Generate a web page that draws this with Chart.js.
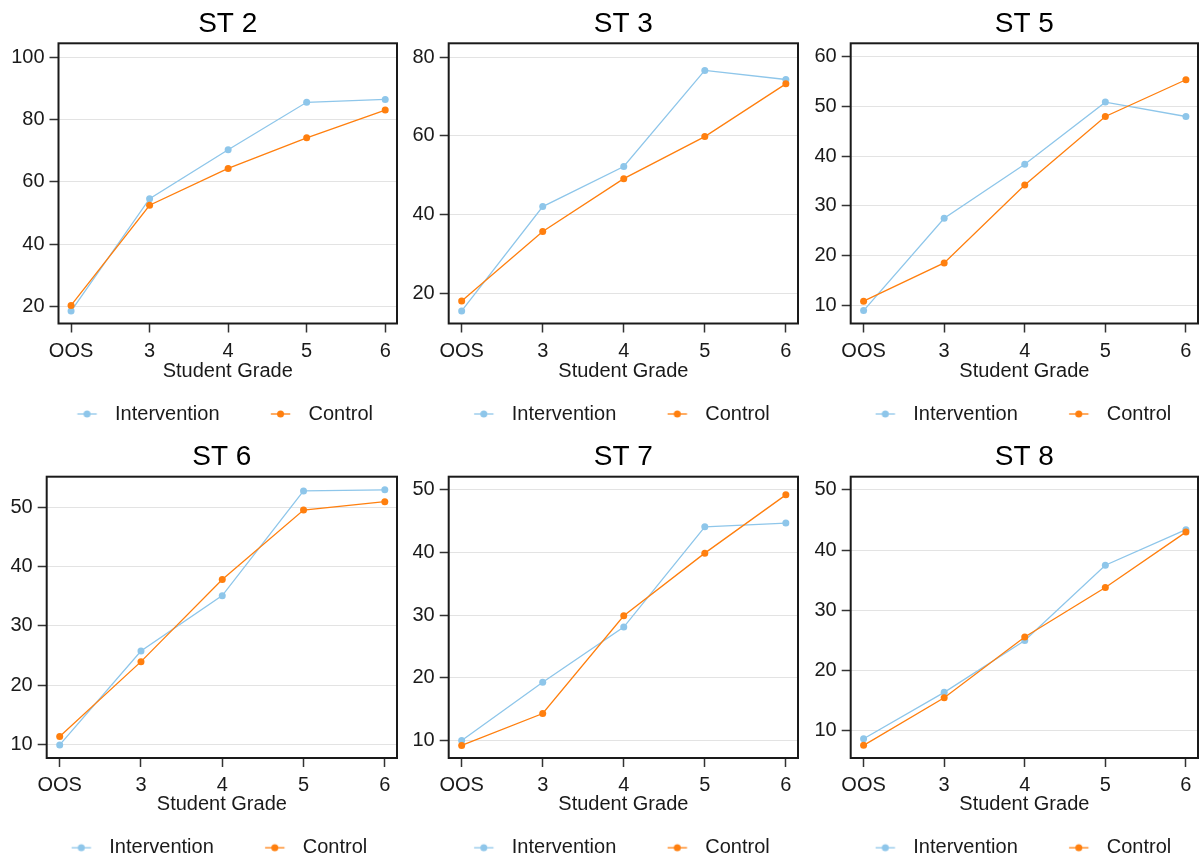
<!DOCTYPE html>
<html>
<head>
<meta charset="utf-8">
<script src="https://cdn.jsdelivr.net/npm/chart.js@4.4.1/dist/chart.umd.min.js"></script>
<style>
  html, body { margin:0; padding:0; background:#fff; }
  #wrap { position:relative; width:1202px; height:861px; overflow:hidden; }
  canvas.panel { position:absolute; }
</style>
</head>
<body>
<div id="wrap"></div>
<script>
// Student grade curves, six panels (ST 2 … ST 8), intervention vs control.

const grades = ["OOS", "3", "4", "5", "6"];
const seriesNames = ["Intervention", "Control"];

const st2Intervention = [18.6, 54.6, 70.3, 85.5, 86.4];
const st2Control      = [20.4, 52.5, 64.3, 74.1, 83.0];
const st2Ticks        = [20, 40, 60, 80, 100];

const st3Intervention = [15.5, 42.0, 52.2, 76.6, 74.3];
const st3Control      = [18.0, 35.7, 49.1, 59.8, 73.2];
const st3Ticks        = [20, 40, 60, 80];

const st5Intervention = [8.9, 27.5, 38.4, 50.9, 48.0];
const st5Control      = [10.8, 18.5, 34.2, 48.0, 55.4];
const st5Ticks        = [10, 20, 30, 40, 50, 60];

const st6Intervention = [10.0, 25.8, 35.1, 52.7, 52.9];
const st6Control      = [11.4, 24.0, 37.8, 49.5, 50.9];
const st6Ticks        = [10, 20, 30, 40, 50];

const st7Intervention = [10.0, 19.3, 28.1, 44.1, 44.7];
const st7Control      = [9.2, 14.3, 29.9, 39.9, 49.2];
const st7Ticks        = [10, 20, 30, 40, 50];

const st8Intervention = [8.7, 16.4, 25.0, 37.5, 43.4];
const st8Control      = [7.6, 15.5, 25.6, 33.8, 43.0];
const st8Ticks        = [10, 20, 30, 40, 50];

const FONT = "'Liberation Sans', Arial, Helvetica, sans-serif";
const BLUE = "#8ec6ea", ORANGE = "#ff7f0e", INK = "#1a1a1a";
const W = 402, H = 440;

const panels = [
  { title:"ST 2", a:st2Intervention, b:st2Control, ticks:st2Ticks, yMin:14.6, yMax:104.4,
    x:0,   y:0,   L:58.5, R:397,   T:43.3, B:323.5, tc:24.5, xc:371.5, lc:414,   t1:115 },
  { title:"ST 3", a:st3Intervention, b:st3Control, ticks:st3Ticks, yMin:12.3, yMax:83.5,
    x:400, y:0,   L:48.7, R:399.5, T:43.3, B:323.5, tc:24.5, xc:371,   lc:414,   t1:111.75 },
  { title:"ST 5", a:st5Intervention, b:st5Control, ticks:st5Ticks, yMin:6.3, yMax:62.75,
    x:800, y:0,   L:50.7, R:401,   T:43.3, B:323.5, tc:24.5, xc:371,   lc:414,   t1:113.25 },
  { title:"ST 6", a:st6Intervention, b:st6Control, ticks:st6Ticks, yMin:7.8, yMax:55.1,
    x:0,   y:430, L:46.7, R:397,   T:46.7, B:328,   tc:26.8, xc:374.3, lc:417.7, t1:109.25 },
  { title:"ST 7", a:st7Intervention, b:st7Control, ticks:st7Ticks, yMin:7.2, yMax:52.1,
    x:400, y:430, L:48.7, R:399.5, T:46.7, B:328,   tc:26.8, xc:374.3, lc:417.7, t1:111.75 },
  { title:"ST 8", a:st8Intervention, b:st8Control, ticks:st8Ticks, yMin:5.5, yMax:52.2,
    x:800, y:430, L:50.7, R:401,   T:46.7, B:328,   tc:26.8, xc:374.3, lc:417.7, t1:113.25 },
];

// frame round the plot region
Chart.register({
  id:"frame",
  beforeDatasetsDraw(c) {
    const a = c.chartArea, ctx = c.ctx;
    ctx.save();
    ctx.strokeStyle = INK; ctx.lineWidth = 2;
    ctx.strokeRect(a.left, a.top, a.right - a.left, a.bottom - a.top);
    ctx.restore();
  },
});

const measure = (() => {
  const ctx = document.createElement("canvas").getContext("2d");
  ctx.font = `20px ${FONT}`;
  return (s) => ctx.measureText(s).width;
})();
const q8 = (v) => Math.round(v * 8) / 8;   // keep legend sums exact

// "line with dot" legend icon; Chart.js centres the image on the legend box,
// the line has to end 8px before the box end
function legendIcon(color, bw) {
  const a = bw / 2 - 27.7, b = bw / 2 - 8.3;
  const wi = 2 * Math.ceil(Math.max(Math.abs(a), Math.abs(b)) + 4);
  const cv = document.createElement("canvas");
  cv.width = wi; cv.height = 12;
  const g = cv.getContext("2d");
  const x1 = wi / 2 + a, x2 = wi / 2 + b;
  g.strokeStyle = color; g.lineWidth = 1.3;
  g.beginPath(); g.moveTo(x1, 6); g.lineTo(x2, 6); g.stroke();
  g.fillStyle = color;
  g.beginPath(); g.arc((x1 + x2) / 2, 6, 3.5, 0, Math.PI * 2); g.fill();
  return cv;
}

function drawPanel(p) {
  const cv = document.createElement("canvas");
  cv.className = "panel"; cv.width = W; cv.height = H;
  cv.style.left = p.x + "px"; cv.style.top = p.y + "px";
  document.getElementById("wrap").appendChild(cv);

  const tw1 = measure(seriesNames[0]), tw2 = measure(seriesNames[1]);
  const t2 = p.t1 + 193.5;                       // start of second legend text
  const pad = q8(p.R - t2 - tw2);                // legend is right-aligned on the plot edge
  const bw = q8(t2 - p.t1 - 10 - tw1 - pad);
  const legTop = p.lc - 10 - pad;
  const xH = legTop - p.B;
  const pB = H - (legTop + 30 + pad);
  const icons = [legendIcon(BLUE, bw), legendIcon(ORANGE, bw)];

  new Chart(cv, {
    type:"line",
    data:{
      datasets:[
        { label:seriesNames[0], data:p.a.map((v, i) => ({ x:i, y:v })), order:1,
          borderColor:BLUE, backgroundColor:BLUE, borderWidth:1.3,
          pointRadius:3.5, pointBorderWidth:0, pointBackgroundColor:BLUE },
        { label:seriesNames[1], data:p.b.map((v, i) => ({ x:i, y:v })), order:0,
          borderColor:ORANGE, backgroundColor:ORANGE, borderWidth:1.3,
          pointRadius:3.5, pointBorderWidth:0, pointBackgroundColor:ORANGE },
      ],
    },
    options:{
      responsive:false, animation:false, devicePixelRatio:1,
      layout:{ padding:{ left:0, right:W - p.R, top:0, bottom:pB } },
      scales:{
        x:{ type:"linear", min:-0.16, max:4.15,
            afterBuildTicks:(s) => { s.ticks = grades.map((g, i) => ({ value:i })); },
            afterFit:(s) => { s.height = xH; },
            ticks:{ autoSkip:false, maxRotation:0, padding:6.5, color:INK,
                    font:{ family:FONT, size:20 }, callback:(v) => grades[v] },
            grid:{ drawOnChartArea:false, tickLength:9, tickColor:"#333", tickWidth:1.5 },
            border:{ display:false },
            title:{ display:true, text:"Student Grade", color:INK,
                    padding:{ top:0, bottom:legTop - 12 - p.xc },
                    font:{ family:FONT, size:20 } } },
        y:{ min:p.yMin, max:p.yMax,
            afterBuildTicks:(s) => { s.ticks = p.ticks.map((v) => ({ value:v })); },
            afterFit:(s) => { s.width = p.L; },
            ticks:{ padding:5, color:INK, font:{ family:FONT, size:20 }, callback:(v) => String(v) },
            grid:{ color:"#e3e3e3", lineWidth:1, tickLength:9, tickColor:"#333", tickWidth:1.5 },
            border:{ display:false } },
      },
      plugins:{
        title:{ display:true, text:p.title, fullSize:false, color:"#000",
                font:{ family:FONT, size:28, weight:"normal" },
                padding:{ top:p.tc - 16.8, bottom:p.T - p.tc - 16.8 } },
        legend:{ position:"bottom", align:"end",
          labels:{ usePointStyle:true, pointStyleWidth:bw, padding:pad, color:INK,
                   font:{ family:FONT, size:20 },
                   generateLabels:(chart) => {
                     const items = Chart.defaults.plugins.legend.labels.generateLabels(chart);
                     items.sort((m, n) => m.datasetIndex - n.datasetIndex);
                     items.forEach((it) => { it.pointStyle = icons[it.datasetIndex]; });
                     return items;
                   } } },
        tooltip:{ enabled:false },
      },
    },
  });
}

panels.forEach(drawPanel);
</script>
</body>
</html>
